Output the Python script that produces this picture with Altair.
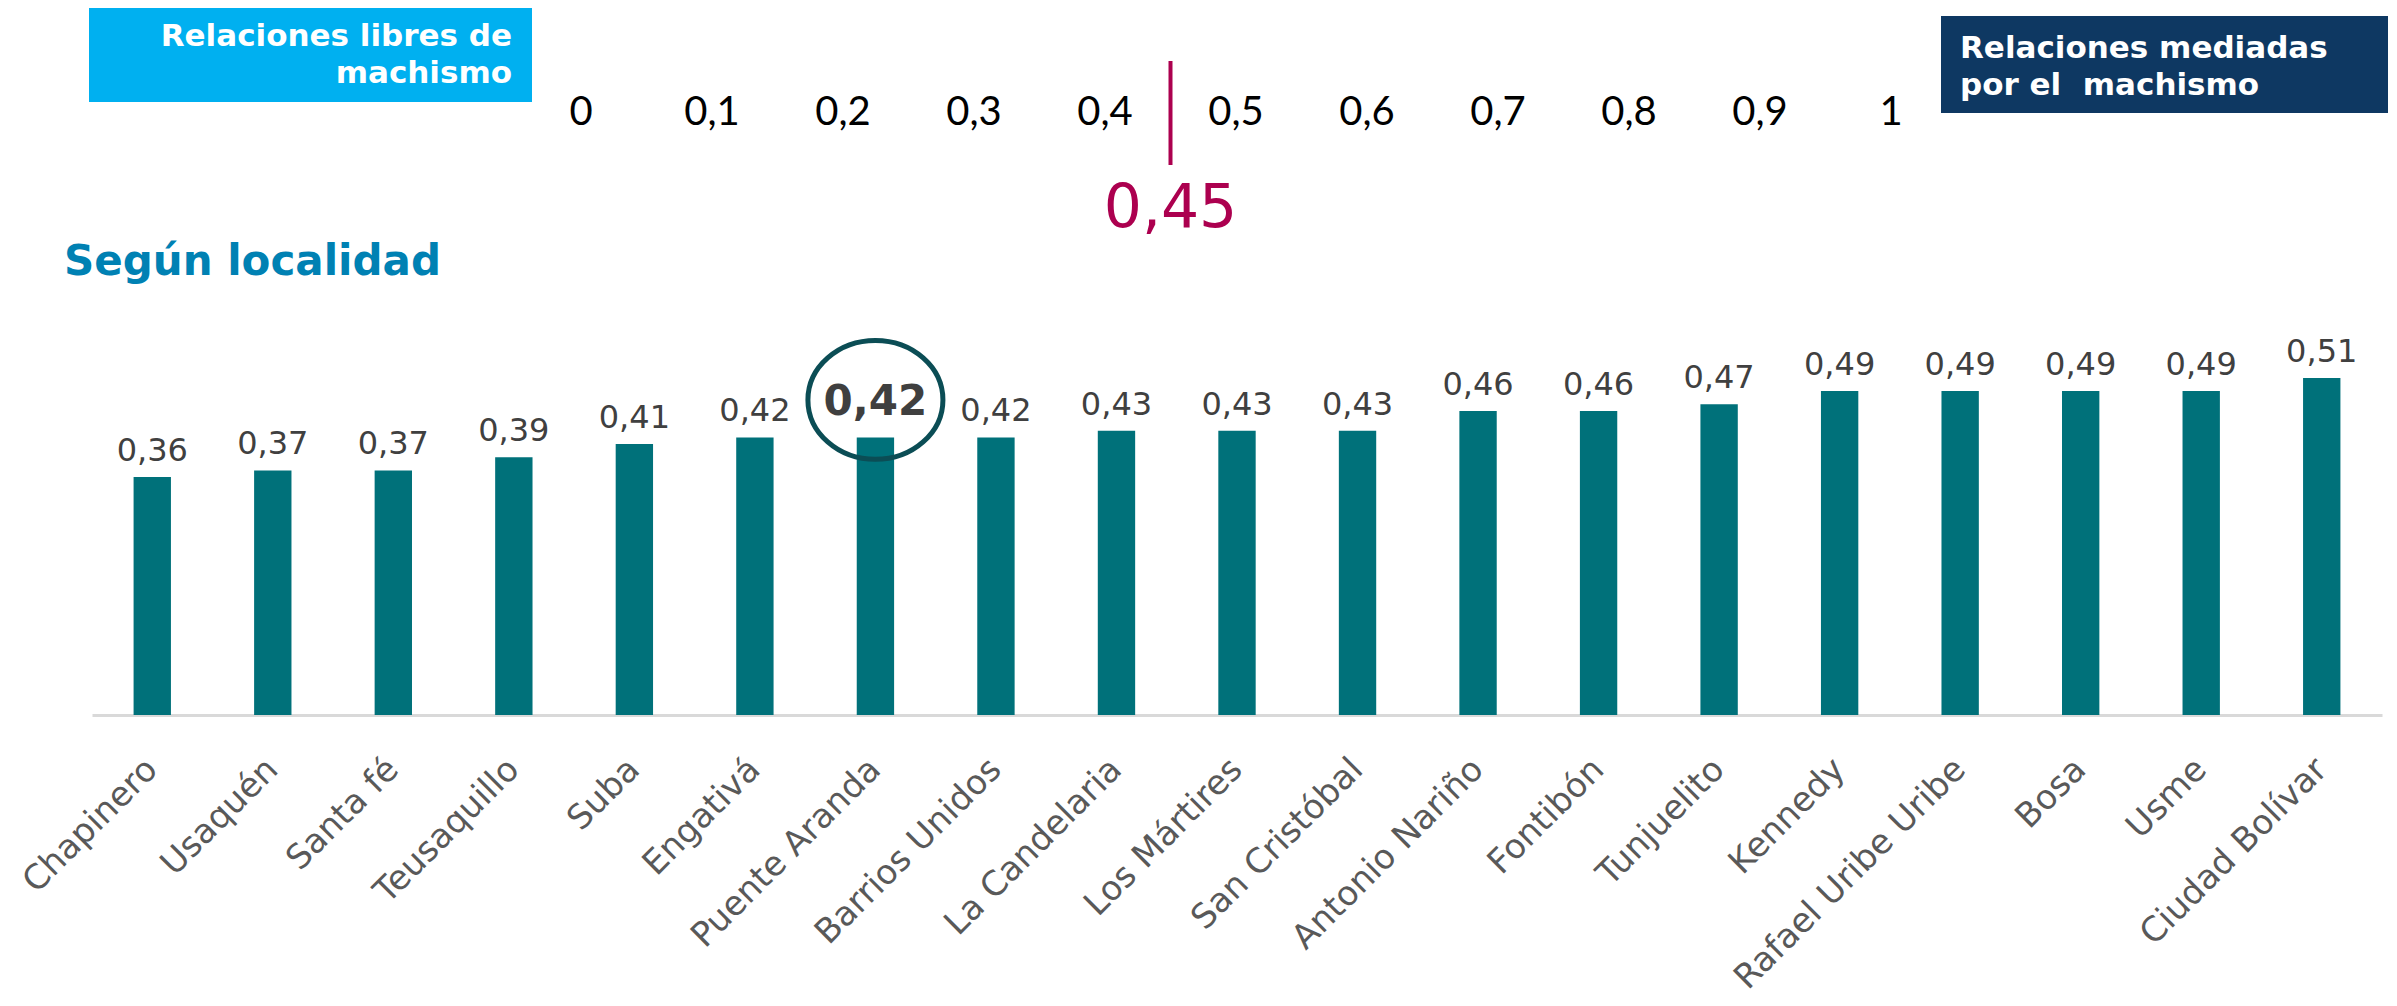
import altair as alt
import pandas as pd

# ---------------- data ----------------
localidades = ["Chapinero", "Usaquén", "Santa fé", "Teusaquillo", "Suba", "Engativá",
               "Puente Aranda", "Barrios Unidos", "La Candelaria", "Los Mártires",
               "San Cristóbal", "Antonio Nariño", "Fontibón", "Tunjuelito", "Kennedy",
               "Rafael Uribe Uribe", "Bosa", "Usme", "Ciudad Bolívar"]
valores = [0.36, 0.37, 0.37, 0.39, 0.41, 0.42, 0.42, 0.42, 0.43, 0.43,
           0.43, 0.46, 0.46, 0.47, 0.49, 0.49, 0.49, 0.49, 0.51]
destacada = "Puente Aranda"

escala_vals = [0, 0.1, 0.2, 0.3, 0.4, 0.5, 0.6, 0.7, 0.8, 0.9, 1.0]
escala_txt = ["0", "0,1", "0,2", "0,3", "0,4", "0,5", "0,6", "0,7", "0,8", "0,9", "1"]
promedio = [0.45]
promedio_txt = ["0,45"]

caja_izq = "Relaciones libres de\nmachismo"
caja_der = "Relaciones mediadas\npor el\u00a0 machismo"
titulo = "Según localidad"

# ---------------- frames ----------------
df = pd.DataFrame({"localidad": localidades, "valor": valores})
df["destacado"] = (df["localidad"] == destacada).astype(int)
df_escala = pd.DataFrame({"v": escala_vals, "t": escala_txt})
df_prom = pd.DataFrame({"v": promedio, "t": promedio_txt})
df_one = pd.DataFrame({"izq": [caja_izq], "der": [caja_der], "titulo": [titulo]})

TEAL = "#00717A"
RED = "#AC004F"

xband = alt.X("localidad:N", sort=None,
              scale=alt.Scale(domain=localidades, paddingInner=0.69, paddingOuter=0.345),
              axis=alt.Axis(title=None, labelAngle=-45, labelAlign="right",
                            labelBaseline="middle", labelPadding=49, ticks=False,
                            tickSize=0, domainColor="#D9D9D9", domainWidth=3,
                            labelFont="DejaVu Sans", labelFontSize=34,
                            labelColor="#595959", labelLimit=600, labelOverlap=False))
yscale = alt.Scale(domain=[0, 1.0696])

base = alt.Chart(df)

bars = base.mark_bar(color=TEAL).encode(
    x=xband,
    y=alt.Y("valor:Q", scale=yscale, axis=None),
)

labels = base.transform_filter("datum.destacado == 0").transform_calculate(
    etiqueta="replace(format(datum.valor, '.2f'), '.', ',')"
).mark_text(font="DejaVu Sans", fontSize=32, color="#404040", baseline="alphabetic", dy=-16).encode(
    x=xband,
    y=alt.Y("valor:Q", scale=yscale, axis=None),
    text="etiqueta:N",
)

hl_text = base.transform_filter("datum.destacado == 1").transform_calculate(
    etiqueta="replace(format(datum.valor, '.2f'), '.', ',')",
    yc="datum.valor + 0.0566",
).mark_text(font="DejaVu Sans", fontSize=42, fontWeight="bold", color="#3F3F3F",
            baseline="middle", dy=2).encode(
    x=xband,
    y=alt.Y("yc:Q", scale=yscale, axis=None),
    text="etiqueta:N",
)

ellipse_path = ("M -1 0 C -1 -0.486 -0.552 -0.88 0 -0.88 C 0.552 -0.88 1 -0.486 1 0 "
                "C 1 0.486 0.552 0.88 0 0.88 C -0.552 0.88 -1 0.486 -1 0 Z")
hl_ellipse = base.transform_filter("datum.destacado == 1").transform_calculate(
    yc="datum.valor + 0.0566",
).mark_point(shape=ellipse_path, filled=False, color="#0B4D55", strokeWidth=5,
             size=135 * 135, opacity=1).encode(
    x=xband,
    y=alt.Y("yc:Q", scale=yscale, axis=None),
)

bar_group = alt.layer(bars, labels, hl_ellipse, hl_text)

# ---------------- top scale ----------------
xs = alt.X("v:Q", scale=alt.Scale(domain=[0, 1], range=[489, 1799]), axis=None)

scale_text = alt.Chart(df_escala).mark_text(font="Lato", fontSize=40, color="#000000",
                                            baseline="alphabetic").encode(
    x=xs, y=alt.value(117), text="t:N")

prom_rule = alt.Chart(df_prom).mark_rule(color=RED, strokeWidth=4).encode(
    x=xs, y=alt.value(53), y2=alt.value(157))

prom_text = alt.Chart(df_prom).mark_text(font="DejaVu Sans", fontSize=60, color=RED,
                                         baseline="alphabetic").encode(
    x=xs, y=alt.value(219), text="t:N")

ann = alt.Chart(df_one)
box_left = ann.mark_rect(color="#00B0F0").encode(
    x=alt.value(-3), x2=alt.value(440), y=alt.value(0), y2=alt.value(94))
box_left_text = ann.mark_text(font="DejaVu Sans", fontSize=31, fontWeight="bold", color="white",
                              align="right", baseline="alphabetic", lineBreak="\n",
                              lineHeight=37).encode(
    x=alt.value(420), y=alt.value(38), text="izq:N")
box_right = ann.mark_rect(color="#0E3862").encode(
    x=alt.value(1849), x2=alt.value(2305), y=alt.value(8), y2=alt.value(105))
box_right_text = ann.mark_text(font="DejaVu Sans", fontSize=31, fontWeight="bold", color="white",
                               align="left", baseline="alphabetic", lineBreak="\n",
                               lineHeight=37).encode(
    x=alt.value(1868), y=alt.value(50), text="der:N")
title_text = ann.mark_text(font="DejaVu Sans", fontSize=42, fontWeight="bold", color="#0081B3",
                           align="left", baseline="alphabetic").encode(
    x=alt.value(-28), y=alt.value(267), text="titulo:N")

top_group = alt.layer(scale_text, prom_rule, prom_text, box_left, box_left_text,
                      box_right, box_right_text, title_text)

chart = alt.layer(bar_group, top_group).resolve_scale(x="independent").properties(
    width=2290, height=707,
    padding={"left": 84, "top": 0, "right": 6, "bottom": 283},
    autosize=alt.AutoSizeParams(type="none"),
    background="white",
).configure_view(strokeWidth=0)

chart.save("out.html", embed_options={"renderer": "svg", "actions": False})
